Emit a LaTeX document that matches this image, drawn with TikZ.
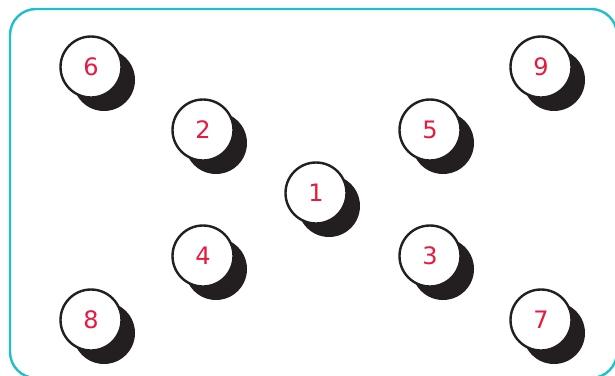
\documentclass[tikz,border=0pt]{standalone}
\usepackage{fontspec}
\setmainfont{DejaVu Sans}
\definecolor{frame}{HTML}{1FBECC}
\definecolor{numred}{HTML}{E8193F}
\definecolor{shade}{HTML}{231F20}
\begin{document}
\begin{tikzpicture}[x=1pt,y=-1pt,
  ball/.style={circle,draw=shade,line width=2.4pt,fill=white,minimum size=61pt,inner sep=0pt,
    text=numred,font=\fontsize{24}{24}\selectfont},
  shadowdisc/.style={circle,fill=shade,minimum size=62pt,inner sep=0pt}]
\useasboundingbox (0,0) rectangle (615,375);
\begin{scope}
\clip (0,0) rectangle (615,375);
\draw[frame,line width=2.4pt,rounded corners=26pt] (10,9) rectangle (617,378);
\end{scope}
\foreach \n/\x/\y in {6/91/67, 2/203/130, 5/430/130, 9/541/67, 1/316/193, 4/203/256, 3/430/256, 8/91/320, 7/541/320}{
  \node[shadowdisc] (s\n) at (\x+13,\y+13) {};
  \node[ball] (b\n) at (\x,\y) {\n};
}
\end{tikzpicture}
\end{document}
